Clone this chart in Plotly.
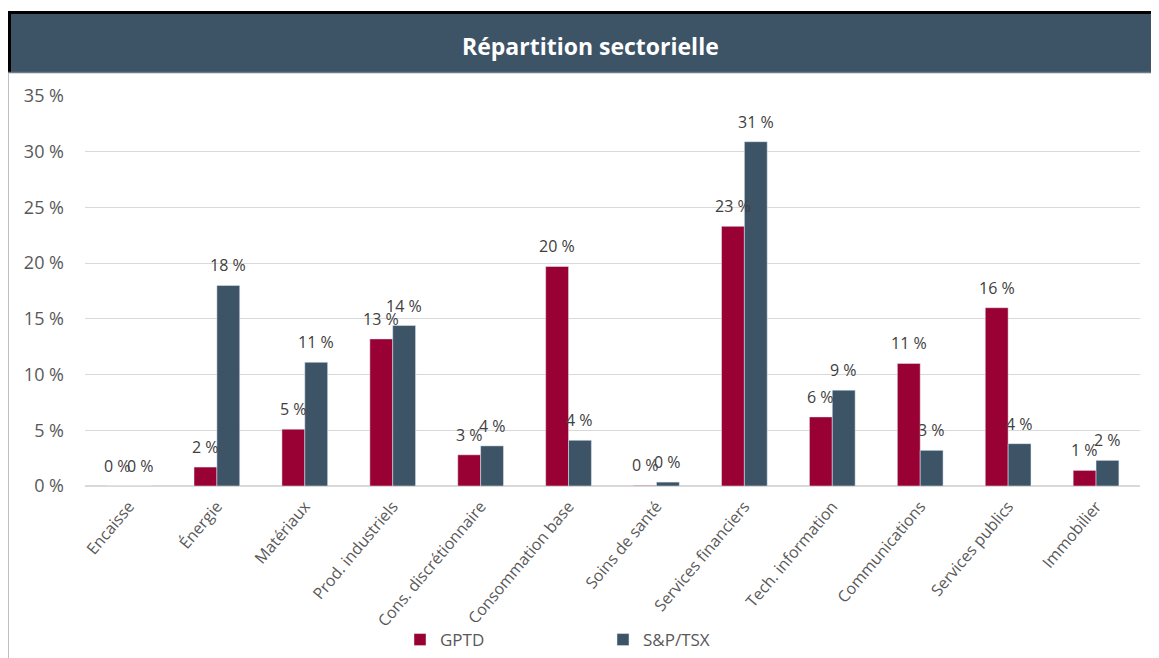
import plotly.graph_objects as go

categories = ["Encaisse", "Énergie", "Matériaux", "Prod. industriels", "Cons. discrétionnaire",
              "Consommation base", "Soins de santé", "Services financiers", "Tech. information",
              "Communications", "Services publics", "Immobilier"]
gptd = [0.0, 1.7, 5.1, 13.2, 2.8, 19.7, 0.05, 23.3, 6.2, 11.0, 16.0, 1.4]
tsx = [0.0, 18.0, 11.1, 14.4, 3.6, 4.1, 0.35, 30.9, 8.6, 3.2, 3.8, 2.3]
yticks = [0, 5, 10, 15, 20, 25, 30, 35]

# page body has an 8px margin: work in screen coordinates, convert to figure
OFF = 8
W, H = 1159 - OFF, 658 - OFF
PL, PR, PT, PB = 85, 1140, 96, 486  # plot area in screen px
L, R, T, B = PL - OFF, W - (PR - OFF), PT - OFF, H - (PB - OFF)
pw, ph = PR - PL, PB - PT

def px(x):
    return (x - PL) / pw

def py(y):
    return (PB - y) / ph

FONT = "Open Sans"
RED = "#990033"
BLUE = "#3D5366"
BARGAP = 0.48

def labels(vals):
    return [f"{round(v)} %" for v in vals]

fig = go.Figure()
fig.add_trace(go.Bar(name="GPTD", x=categories, y=gptd, marker_color=RED))
fig.add_trace(go.Bar(name="S&P/TSX", x=categories, y=tsx, marker_color=BLUE))

# data labels above each bar
half = pw / len(categories) * (1 - BARGAP) / 4
annotations = []
for series, sign in ((gptd, -1), (tsx, 1)):
    for cat, v, t in zip(categories, series, labels(series)):
        annotations.append(dict(x=cat, y=v, xref="x", yref="y", text=t, showarrow=False,
                                xanchor="center", yanchor="middle", xshift=sign * half, yshift=20,
                                font=dict(size=16, color="#404040", family=FONT)))

annotations.append(dict(text="<b>Répartition sectorielle</b>", xref="paper", yref="paper",
                        x=px(590), y=py(46), xanchor="center", yanchor="middle", showarrow=False,
                        font=dict(size=23, color="white", family=FONT)))

fig.update_layout(
    width=W, height=H,
    margin=dict(l=L, r=R, t=T, b=B, autoexpand=False),
    paper_bgcolor="white", plot_bgcolor="white",
    barmode="group", bargap=BARGAP, bargroupgap=0,
    font=dict(family=FONT, color="#595959", size=15),
    showlegend=True,
    legend=dict(orientation="h", x=px(400), xanchor="left", y=py(640), yanchor="middle",
                entrywidth=158, entrywidthmode="pixels",
                font=dict(size=17, color="#595959", family=FONT)),
    xaxis=dict(tickangle=-50, tickfont=dict(size=16, color="#595959"), showline=False,
               showgrid=False, ticks="", ticklabelstandoff=7),
    yaxis=dict(range=[0, 35], tickvals=yticks, ticktext=[f"{v} %" for v in yticks],
               showgrid=True, gridcolor="#D9D9D9", gridwidth=1, zeroline=True,
               zerolinecolor="#D9D9D9", zerolinewidth=2, tickfont=dict(size=18, color="#595959"),
               ticks="", ticklabelstandoff=20, automargin=False),
    shapes=[
        dict(type="rect", xref="paper", yref="paper", x0=px(8), x1=px(1162), y0=py(72), y1=py(12),
             fillcolor=BLUE, line=dict(width=0), layer="above"),
        dict(type="line", xref="paper", yref="paper", x0=px(8), x1=px(1162), y0=py(12.5), y1=py(12.5),
             line=dict(color="black", width=3)),
        dict(type="line", xref="paper", yref="paper", x0=px(9.5), x1=px(9.5), y0=py(72), y1=py(11),
             line=dict(color="black", width=3)),
        dict(type="line", xref="paper", yref="paper", x0=px(8), x1=px(1162), y0=py(72.5), y1=py(72.5),
             line=dict(color="#6E7A85", width=1.5)),
        dict(type="line", xref="paper", yref="paper", x0=px(8.5), x1=px(8.5), y0=py(73), y1=py(660),
             line=dict(color="#BFBFBF", width=1)),
    ],
    annotations=annotations,
)

fig.write_html("out.html")
